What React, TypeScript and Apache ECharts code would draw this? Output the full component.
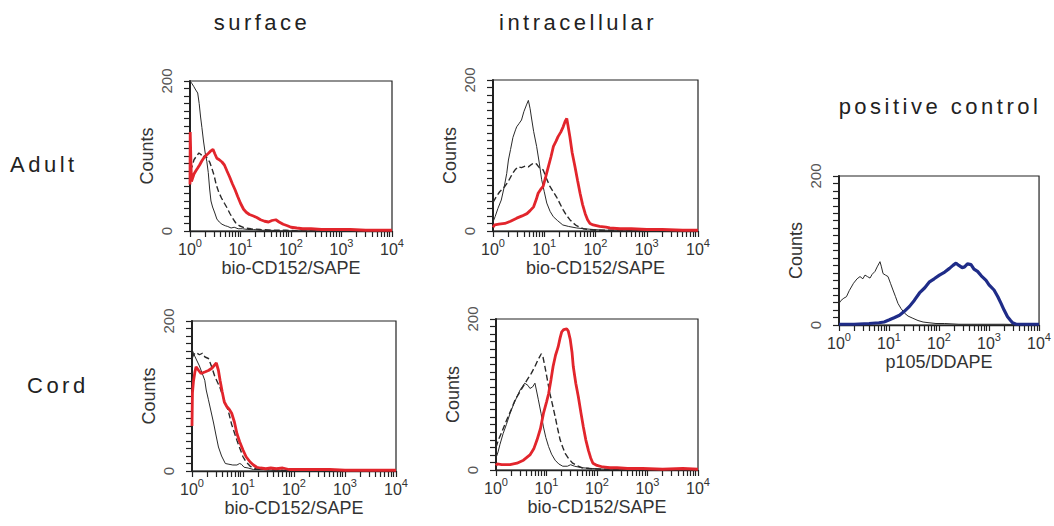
import React, { useEffect, useRef } from "react";
import * as echarts from "echarts";

type Pt = [number, number];

const FONT = "'Liberation Sans', Arial, Helvetica, sans-serif";

// Histogram outlines: [fluorescence intensity, counts]
// Adult, surface staining
const adultSurfaceIso: Pt[] = [
  [1, 200], [1.08, 197], [1.18, 193], [1.3, 188], [1.42, 184], [1.52, 170], [1.62, 152], [1.72, 138],
  [1.85, 120], [2.0, 104], [2.15, 93], [2.3, 78], [2.45, 56], [2.6, 40], [2.8, 32], [3.1, 24], [3.4, 16],
  [3.8, 12], [4.3, 9], [5.0, 7], [5.6, 6], [6.5, 4], [7.5, 5], [9, 3], [11, 3], [14, 2], [18, 2], [25, 1],
  [40, 1], [60, 0], [10000, 0],
];
const adultSurfaceDash: Pt[] = [
  [1, 80], [1.1, 86], [1.2, 95], [1.35, 100], [1.5, 104], [1.65, 102], [1.8, 98], [2.0, 101], [2.2, 97],
  [2.45, 92], [2.7, 84], [3.0, 74], [3.3, 62], [3.7, 52], [4.2, 44], [4.8, 37], [5.4, 31], [6.2, 23],
  [7, 17], [8, 11], [9.5, 7], [12, 4], [16, 3], [25, 2], [40, 1], [80, 1], [150, 0], [10000, 0],
];
const adultSurfaceRed: Pt[] = [
  [1, 62], [1.01, 132], [1.04, 96], [1.07, 66], [1.12, 70], [1.2, 76], [1.3, 80], [1.42, 84], [1.55, 88],
  [1.7, 93], [1.9, 98], [2.1, 101], [2.35, 104], [2.6, 107], [2.85, 109], [3.1, 103], [3.4, 97], [3.8, 95],
  [4.3, 92], [4.8, 88], [5.4, 80], [6.1, 72], [6.9, 63], [7.8, 55], [8.8, 46], [10, 37], [11.5, 29],
  [13, 25], [15, 22], [18, 20], [21, 18], [25, 15], [30, 13], [36, 12], [42, 14], [50, 15], [58, 12],
  [70, 9], [85, 7], [100, 5], [130, 4], [170, 3], [250, 3], [400, 2], [700, 2], [1500, 2], [3000, 1],
  [6000, 1], [10000, 1],
];

// Adult, intracellular staining
const adultIntraIso: Pt[] = [
  [1, 12], [1.1, 19], [1.25, 30], [1.45, 41], [1.65, 58], [1.85, 76], [2.0, 94], [2.2, 108], [2.45, 124],
  [2.75, 134], [2.9, 138], [3.2, 142], [3.6, 147], [4.0, 158], [4.5, 167], [4.9, 173], [5.3, 162],
  [5.6, 151], [6.2, 132], [7.1, 112], [8.0, 90], [8.9, 68], [10, 52], [11.2, 37], [13, 26], [15, 19],
  [18, 14], [23, 8], [30, 6], [43, 4], [60, 3], [90, 2], [150, 1], [300, 1], [10000, 0],
];
const adultIntraDash: Pt[] = [
  [1, 38], [1.15, 45], [1.35, 52], [1.7, 59], [2.0, 66], [2.4, 76], [2.7, 81], [3.1, 85], [3.6, 84],
  [4.3, 86], [4.9, 85], [5.6, 88], [6.2, 90], [7.0, 89], [8.0, 84], [9.5, 81], [11, 70], [12.9, 59],
  [15, 52], [17.4, 45], [20, 37], [23.4, 28], [27, 21], [31.6, 15], [36, 11], [42.7, 7], [50, 5],
  [57.5, 3], [70, 2], [100, 1], [200, 1], [10000, 0],
];
const adultIntraRed: Pt[] = [
  [1, 5], [1.08, 8], [1.3, 9], [1.7, 10], [2.2, 13], [2.9, 17], [3.7, 20], [4.6, 23], [5.3, 27], [6.2, 32],
  [7.0, 42], [7.6, 50], [8.5, 55], [9.5, 59], [10.7, 72], [12, 85], [13.5, 98], [15.1, 112], [17, 119],
  [18.6, 125], [21, 131], [23.4, 138], [25.5, 145], [27.5, 149], [29, 140], [31.6, 125], [35, 104],
  [39.8, 85], [44.7, 67], [50, 50], [56, 35], [63, 23], [70, 15], [78, 10], [90, 8], [120, 6], [160, 5],
  [190, 4], [300, 3], [500, 3], [1000, 2], [2000, 2], [5000, 1], [10000, 1],
];

// Cord blood, surface staining
const cordSurfaceIso: Pt[] = [
  [1, 162], [1.1, 155], [1.23, 148], [1.4, 140], [1.55, 132], [1.78, 121], [1.9, 108], [2.1, 95],
  [2.35, 80], [2.65, 64], [2.95, 48], [3.3, 32], [3.8, 20], [4.5, 10], [5.3, 9], [6.3, 8], [7.6, 8],
  [8.6, 10], [9.3, 9], [10.5, 5], [12.6, 4], [16, 2], [25, 2], [40, 1], [80, 1], [150, 0], [10000, 0],
];
const cordSurfaceDash: Pt[] = [
  [1, 150], [1.07, 155], [1.2, 158], [1.4, 155], [1.6, 157], [1.8, 152], [2.1, 150], [2.4, 140],
  [2.8, 126], [3.5, 112], [4.2, 96], [5.1, 81], [6.0, 62], [7.6, 41], [8.7, 30], [10, 19], [11.5, 12],
  [14, 6], [18, 3], [30, 2], [60, 1], [150, 0], [10000, 0],
];
const cordSurfaceRed: Pt[] = [
  [1, 60], [1.02, 104], [1.07, 120], [1.14, 132], [1.2, 139], [1.32, 135], [1.5, 130], [1.78, 132],
  [2.1, 134], [2.45, 137], [2.75, 141], [3.0, 144], [3.3, 134], [3.55, 121], [3.9, 106], [4.3, 92],
  [4.8, 86], [5.4, 82], [6.0, 77], [6.8, 65], [7.6, 50], [8.6, 39], [10, 28], [11.5, 19], [13.8, 12],
  [16, 8], [18.6, 5], [22, 4], [28, 3], [35, 4], [45, 3], [60, 4], [80, 2], [120, 2], [200, 2], [500, 2],
  [1000, 1], [3000, 1], [10000, 1],
];

// Cord blood, intracellular staining
const cordIntraIso: Pt[] = [
  [1, 16], [1.1, 24], [1.2, 34], [1.38, 48], [1.6, 60], [1.9, 75], [2.2, 86], [2.6, 97], [3.0, 106],
  [3.7, 115], [4.3, 112], [4.7, 108], [5.3, 110], [5.9, 115], [6.3, 106], [6.9, 93], [7.8, 75], [8.7, 57],
  [9.7, 43], [11, 31], [12.6, 21], [14.8, 13], [17.5, 8], [21, 5], [26, 5], [30, 7], [36, 5], [50, 3],
  [80, 2], [150, 1], [10000, 0],
];
const cordIntraDash: Pt[] = [
  [1, 30], [1.12, 40], [1.3, 50], [1.62, 66], [2.0, 80], [2.4, 93], [3.0, 104], [4.1, 119], [5.0, 128],
  [5.9, 137], [6.8, 146], [7.9, 154], [8.5, 150], [9.3, 137], [10.5, 118], [11.7, 101], [13.2, 86],
  [14.8, 71], [16.6, 55], [18.6, 40], [21, 30], [23.4, 22], [27.5, 15], [33, 9], [40, 6], [50, 3],
  [70, 2], [120, 1], [10000, 0],
];
const cordIntraRed: Pt[] = [
  [1, 6], [1.05, 8], [1.3, 7], [1.9, 7], [2.6, 9], [3.5, 13], [4.7, 20], [5.6, 28], [6.5, 40], [7.6, 55],
  [8.7, 75], [10, 90], [11, 101], [12.3, 120], [13.5, 137], [15.1, 152], [17, 163], [18.6, 175],
  [20, 183], [22, 186], [25.1, 187], [27, 184], [29.5, 173], [32, 156], [33.9, 137], [38, 115],
  [42.7, 97], [48, 76], [53.7, 57], [60, 40], [67.6, 26], [75, 16], [83, 9], [100, 6], [130, 4],
  [180, 3], [250, 3], [400, 2], [800, 2], [2000, 1], [5000, 2], [10000, 1],
];

// Positive control, p105
const controlIso: Pt[] = [
  [1, 29], [1.1, 33], [1.25, 36], [1.41, 38], [1.6, 46], [1.95, 56], [2.3, 62], [2.63, 65], [3.0, 62],
  [3.31, 67], [3.7, 65], [4.17, 63], [4.6, 68], [5.25, 72], [5.8, 78], [6.6, 85], [7.0, 79], [7.6, 69],
  [8.5, 67], [9.55, 65], [10.7, 56], [12, 47], [13.5, 38], [15.1, 29], [17.4, 22], [20.4, 16], [24, 12],
  [30, 9], [38, 6], [48, 4], [63, 3], [87, 2], [130, 2], [250, 1], [600, 1], [2000, 1], [10000, 0],
];
const controlP105: Pt[] = [
  [1, 1], [2, 1], [4, 2], [6.3, 3], [8, 4], [10.2, 7], [13, 10], [16.2, 13], [20, 18], [25.7, 25],
  [32, 33], [40.7, 43], [52, 50], [64.6, 58], [80, 62], [102, 67], [130, 71], [162, 76], [190, 80],
  [219, 83], [250, 80], [290, 77], [324, 78], [370, 82], [436, 81], [500, 75], [589, 72], [700, 66],
  [871, 60], [1000, 54], [1259, 47], [1500, 38], [1738, 29], [2000, 20], [2344, 11], [2700, 6],
  [2950, 3], [3500, 1], [5000, 1], [10000, 1],
];

const columnTitles = ["surface", "intracellular", "positive control"];
const rowTitles = ["Adult", "Cord"];
const countLabels = [0, 200];
const countTickMarks = [
  0, 10, 20, 30, 40, 50, 60, 70, 80, 90, 100, 110, 120, 130, 140, 150, 160, 170, 180, 190, 200,
];
const decadeLabels = [1, 10, 100, 1000, 10000];
const logTickMarks = [
  1, 2, 3, 4, 5, 6, 7, 8, 9,
  10, 20, 30, 40, 50, 60, 70, 80, 90,
  100, 200, 300, 400, 500, 600, 700, 800, 900,
  1000, 2000, 3000, 4000, 5000, 6000, 7000, 8000, 9000,
  10000,
];
const xNameCD152 = "bio-CD152/SAPE";
const xNameP105 = "p105/DDAPE";

type Kind = "iso" | "dash" | "red" | "blue";

const lineStyles: Record<Kind, any> = {
  iso: { color: "#2a2a2a", width: 1 },
  dash: { color: "#2a2a2a", width: 1.4, type: [6, 3] },
  red: { color: "#e2252c", width: 2.8 },
  blue: { color: "#1f2c88", width: 3.2 },
};

// Panel boxes on the page
const panels = [
  { box: { left: 190, top: 81, width: 202, height: 150 }, xName: xNameCD152,
    curves: [["dash", adultSurfaceDash], ["iso", adultSurfaceIso], ["red", adultSurfaceRed]] },
  { box: { left: 493, top: 80, width: 205, height: 151 }, xName: xNameCD152,
    curves: [["dash", adultIntraDash], ["iso", adultIntraIso], ["red", adultIntraRed]] },
  { box: { left: 192, top: 321, width: 204, height: 150 }, xName: xNameCD152,
    curves: [["dash", cordSurfaceDash], ["iso", cordSurfaceIso], ["red", cordSurfaceRed]] },
  { box: { left: 496, top: 319, width: 202, height: 151 }, xName: xNameCD152,
    curves: [["dash", cordIntraDash], ["iso", cordIntraIso], ["red", cordIntraRed]] },
  { box: { left: 839, top: 176, width: 201, height: 149 }, xName: xNameP105,
    curves: [["iso", controlIso], ["blue", controlP105]] },
] as { box: any; xName: string; curves: [Kind, Pt[]][] }[];

const textColor = "#333";

function buildOption() {
  const grid = panels.map((p) => ({
    ...p.box,
    show: true,
    borderColor: "#222",
    borderWidth: 1.2,
    backgroundColor: "transparent",
  }));

  const xAxis = panels.map((p, i) => ({
    gridIndex: i,
    type: "log",
    logBase: 10,
    min: 1,
    max: 10000,
    name: p.xName,
    nameLocation: "middle",
    nameGap: 28,
    nameTextStyle: { fontSize: 18, color: textColor, fontFamily: FONT },
    axisLine: { show: true, lineStyle: { color: "#222", width: 1.3 } },
    axisTick: {
      show: true,
      length: 6,
      customValues: logTickMarks,
      lineStyle: { color: "#222", width: 1.2 },
    },
    splitLine: { show: false },
    axisLabel: {
      margin: 6,
      customValues: decadeLabels,
      showMinLabel: true,
      showMaxLabel: true,
      formatter: (v: number) => `{b|10}{s|${Math.round(Math.log10(v))}}`,
      rich: {
        b: { fontSize: 16, color: textColor, fontFamily: FONT },
        s: { fontSize: 11, color: textColor, fontFamily: FONT, padding: [0, 0, 14, 0] },
      },
    },
  }));

  const yAxis = panels.map((_, i) => ({
    gridIndex: i,
    type: "value",
    min: countLabels[0],
    max: countLabels[1],
    interval: countLabels[1] - countLabels[0],
    name: "Counts",
    nameLocation: "middle",
    nameGap: 34,
    nameRotate: 90,
    nameTextStyle: { fontSize: 18, color: textColor, fontFamily: FONT },
    axisLine: { show: true, lineStyle: { color: "#222", width: 2 } },
    axisTick: {
      show: true,
      length: 6,
      customValues: countTickMarks,
      lineStyle: { color: "#222", width: 1.2 },
    },
    splitLine: { show: false },
    axisLabel: {
      rotate: 90,
      margin: 16,
      customValues: countLabels,
      fontSize: 15,
      color: "#555",
      fontFamily: FONT,
    },
  }));

  const series: any[] = [];
  panels.forEach((p, i) => {
    p.curves.forEach(([kind, data]) => {
      series.push({
        type: "line",
        xAxisIndex: i,
        yAxisIndex: i,
        data,
        symbol: "none",
        showSymbol: false,
        lineStyle: lineStyles[kind],
        z: kind === "red" || kind === "blue" ? 3 : 2,
      });
    });
  });

  const titleFont = { fontSize: 22, fontFamily: FONT, fill: "#222" };
  const graphic = [
    { type: "text", x: 262, y: 22, style: { ...titleFont, text: columnTitles[0], align: "center", verticalAlign: "middle" } },
    { type: "text", x: 578, y: 22, style: { ...titleFont, text: columnTitles[1], align: "center", verticalAlign: "middle" } },
    { type: "text", x: 940, y: 106, style: { ...titleFont, text: columnTitles[2], align: "center", verticalAlign: "middle" } },
    { type: "text", x: 10, y: 164, style: { ...titleFont, text: rowTitles[0], align: "left", verticalAlign: "middle" } },
    { type: "text", x: 27, y: 385, style: { ...titleFont, text: rowTitles[1], align: "left", verticalAlign: "middle" } },
  ];

  return {
    animation: false,
    backgroundColor: "#ffffff",
    grid,
    xAxis,
    yAxis,
    series,
    graphic,
  };
}

const spacedTitles = new Set([...columnTitles, ...rowTitles]);

export default function App() {
  const ref = useRef<HTMLDivElement>(null);

  useEffect(() => {
    if (!ref.current) return;
    const chart = echarts.init(ref.current, null, { renderer: "svg" });
    chart.setOption(buildOption() as any);
    // Headings are set with open tracking
    ref.current.querySelectorAll("text").forEach((t) => {
      if (spacedTitles.has((t.textContent || "").trim())) {
        t.setAttribute("letter-spacing", "3.5");
      }
    });
    return () => chart.dispose();
  }, []);

  return (
    <div
      ref={ref}
      style={{ position: "absolute", left: 0, top: 0, width: 1054, height: 526, background: "#fff" }}
    />
  );
}
